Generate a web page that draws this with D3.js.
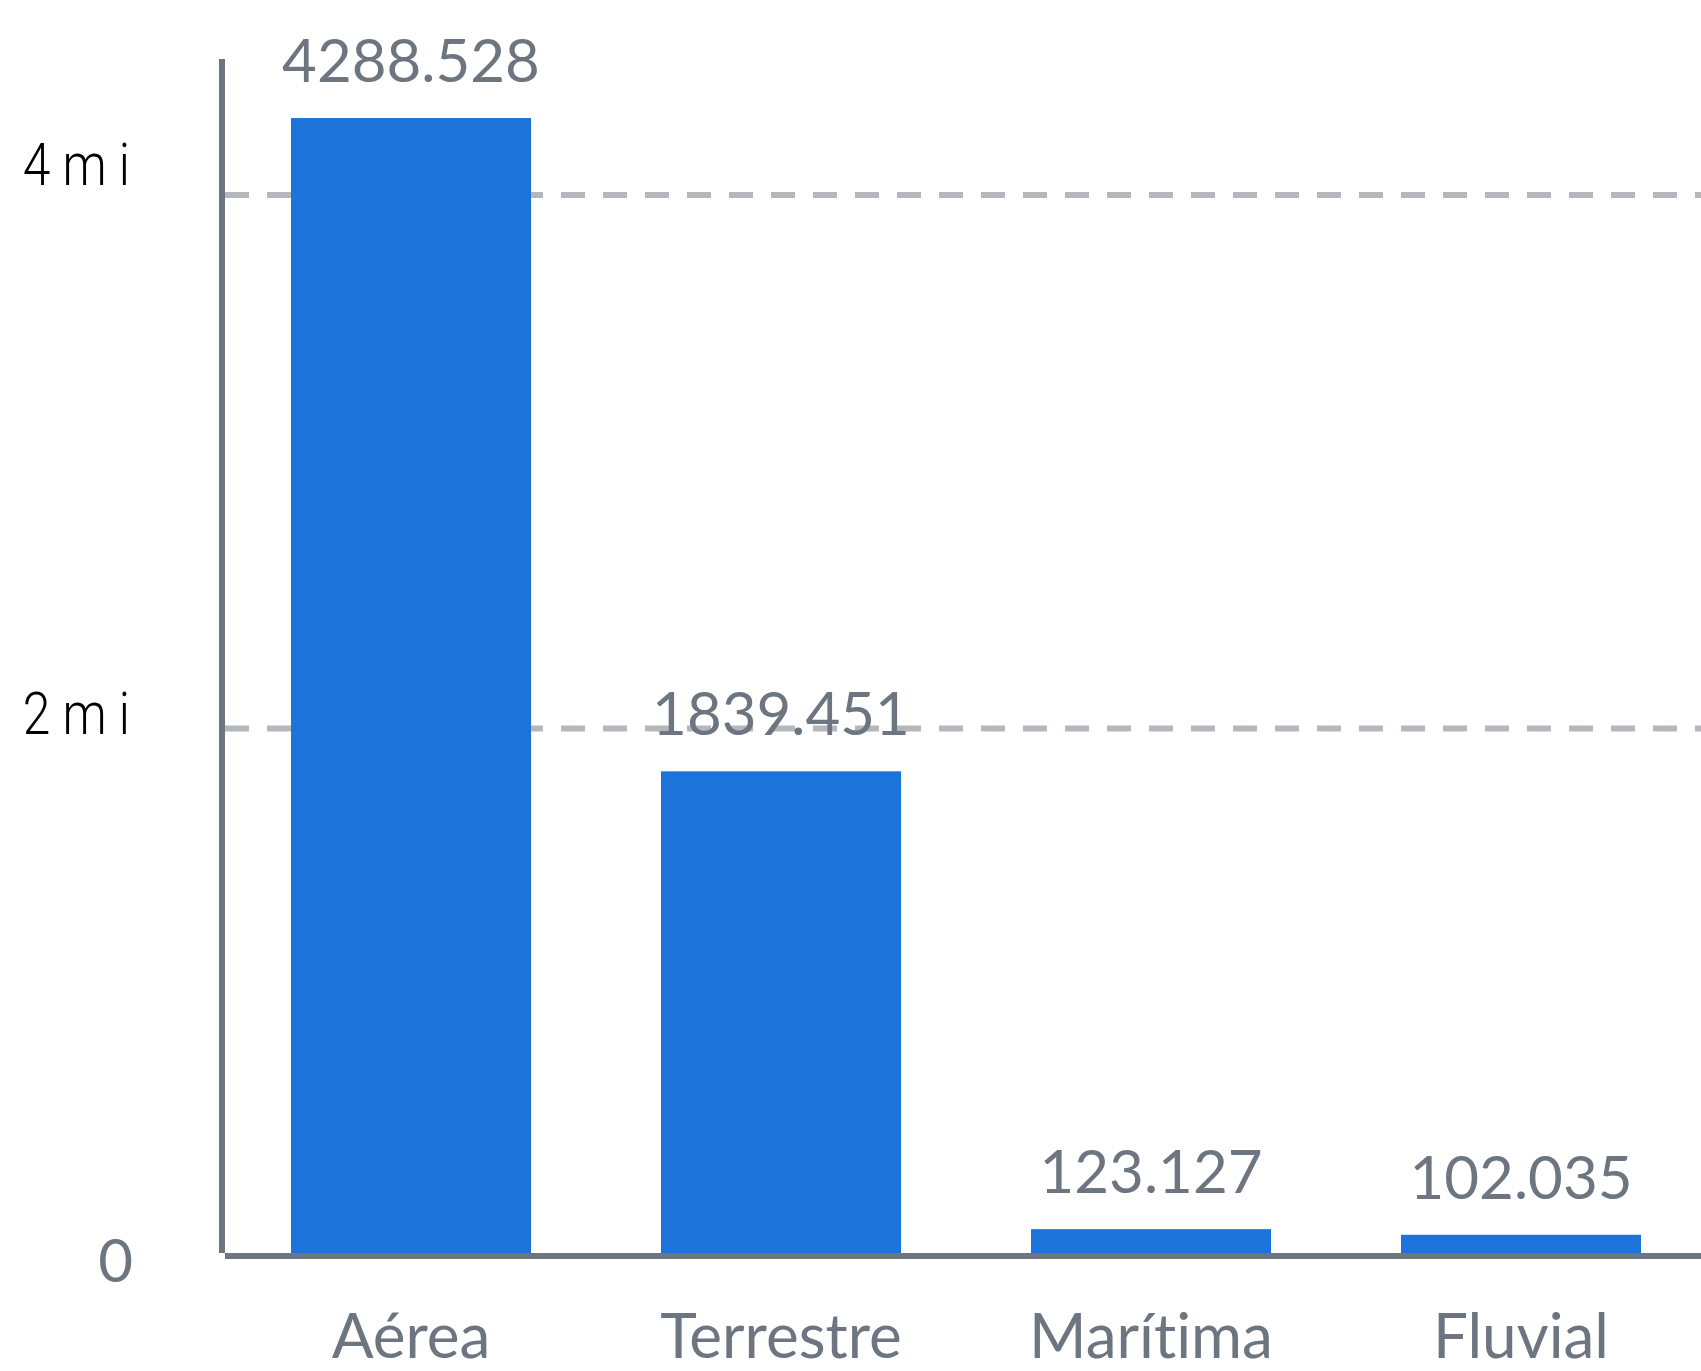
<!DOCTYPE html>
<html>
<head>
<meta charset="utf-8">
<script src="https://cdn.jsdelivr.net/npm/d3@7"></script>
<style>
  body { margin: 0; background: #fff; }
  svg { display: block; }
  text { font-variant-ligatures: none; }
</style>
</head>
<body>
<div id="chart"></div>
<script>
// data
const categories = ["Aérea", "Terrestre", "Marítima", "Fluvial"];
const values = [4288528, 1839451, 123127, 102035];
const valueLabels = ["4288.528", "1839.451", "123.127", "102.035"];
const tickValues = [0, 2000000, 4000000];
const tickLabels = ["0", "2 m i", "4 m i"];

const width = 1701, height = 1371;
const margin = {top: 59, right: 0, bottom: 115, left: 222};
const gray = "#6c7580";

const svg = d3.select("#chart").append("svg")
    .attr("width", width)
    .attr("height", height);

// scales (step 370, bar 240)
const x = d3.scaleBand()
    .domain(categories)
    .range([226, 1706])
    .paddingInner(130 / 370)
    .paddingOuter(65 / 370);

const y = d3.scaleLinear()
    .domain([0, 4000000])
    .range([1262, 195]);

// tick labels sit on a slightly looser spacing than the gridlines
const yLab = d3.scaleLinear()
    .domain([0, 4000000])
    .range([1282, 185]);

const baseY = 1256;
const labelX = 133;

// gridlines
svg.append("g")
    .selectAll("line")
    .data(tickValues.filter(d => d > 0))
    .join("line")
    .attr("x1", margin.left + 3)
    .attr("x2", width)
    .attr("y1", d => y(d))
    .attr("y2", d => y(d))
    .attr("stroke", "#b4b8bc")
    .attr("stroke-width", 6)
    .attr("stroke-dasharray", "24 18");

// bars
svg.append("g")
    .selectAll("rect")
    .data(values)
    .join("rect")
    .attr("x", (d, i) => x(categories[i]))
    .attr("width", x.bandwidth())
    .attr("y", d => y(d))
    .attr("height", d => baseY - y(d))
    .attr("fill", "#1c74db");

// axes lines
svg.append("line")
    .attr("x1", margin.left).attr("x2", margin.left)
    .attr("y1", margin.top).attr("y2", baseY - 3)
    .attr("stroke", gray).attr("stroke-width", 6);

svg.append("line")
    .attr("x1", margin.left + 3).attr("x2", width)
    .attr("y1", baseY).attr("y2", baseY)
    .attr("stroke", gray).attr("stroke-width", 6);

// y tick labels (the "mi" ones use a narrow black face)
svg.append("g")
    .selectAll("text")
    .data(tickValues)
    .join("text")
    .attr("transform", d => d === 0
        ? `translate(${labelX},${yLab(d)})`
        : `translate(${labelX - 3},${yLab(d)}) scale(0.83,1)`)
    .attr("text-anchor", "end")
    .style("font-family", d => d === 0 ? "Lato" : "Roboto")
    .style("font-weight", d => d === 0 ? 400 : 300)
    .style("font-size", "60px")
    .attr("fill", d => d === 0 ? gray : "#000")
    .text((d, i) => tickLabels[i]);

// value labels
svg.append("g")
    .selectAll("text")
    .data(values)
    .join("text")
    .attr("x", (d, i) => x(categories[i]) + x.bandwidth() / 2)
    .attr("y", d => y(d) - 36)
    .attr("text-anchor", "middle")
    .style("font-family", "Lato")
    .style("font-size", "60px")
    .attr("fill", gray)
    .text((d, i) => valueLabels[i]);

// category labels
svg.append("g")
    .selectAll("text")
    .data(categories)
    .join("text")
    .attr("x", d => x(d) + x.bandwidth() / 2)
    .attr("y", 1358)
    .attr("text-anchor", "middle")
    .style("font-family", "Lato")
    .style("font-size", "62px")
    .attr("fill", gray)
    .text(d => d);
</script>
</body>
</html>
